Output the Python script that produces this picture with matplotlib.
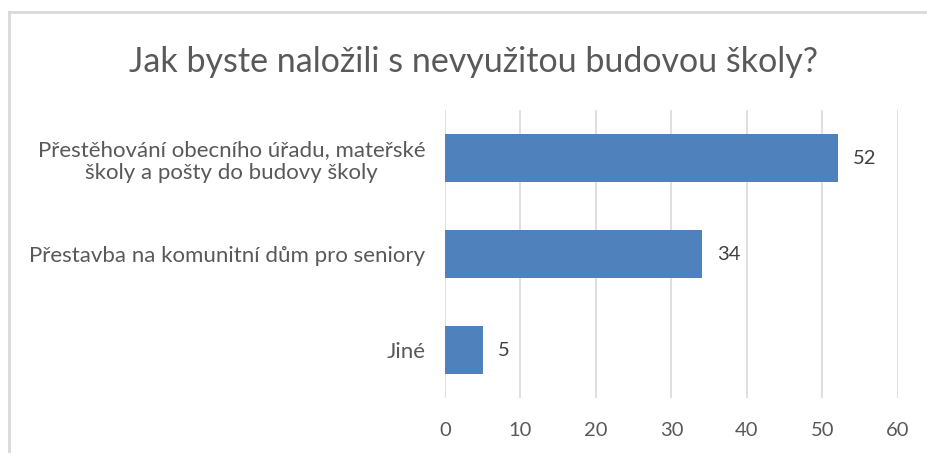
import matplotlib
matplotlib.use("Agg")
import matplotlib.pyplot as plt
from matplotlib.lines import Line2D

plt.rcParams["font.family"] = ["Lato", "DejaVu Sans"]

title = "Jak byste naložili s nevyužitou budovou školy?"
categories = [
    "Přestěhování obecního úřadu, mateřské\nškoly a pošty do budovy školy",
    "Přestavba na komunitní dům pro seniory",
    "Jiné",
]
values = [52, 34, 5]
x_ticks = [0, 10, 20, 30, 40, 50, 60]

bar_color = "#4F81BD"
text_color = "#595959"
grid_color = "#D9D9D9"

W, H = 928, 453
fig = plt.figure(figsize=(W / 100, H / 100), dpi=100)
ax = fig.add_axes([445 / W, 1 - 398 / H, (898 - 445) / W, (398 - 110) / H])

y = list(range(len(categories)))
ax.barh(y, values, height=0.5, color=bar_color, zorder=3)
for yi, v in zip(y, values):
    ax.text(v + 2, yi, str(v), va="center", ha="left", fontsize=14.5, color="#404040")

ax.set_ylim(len(categories) - 0.5, -0.5)
ax.set_xlim(x_ticks[0], x_ticks[-1])
ax.set_xticks(x_ticks)
ax.set_yticks(y)
ax.set_yticklabels(categories, fontsize=16, color=text_color, multialignment="center")
ax.tick_params(axis="x", length=0, pad=17, labelsize=14.5, labelcolor=text_color)
ax.tick_params(axis="y", length=0, pad=14)
ax.grid(axis="x", color=grid_color, linewidth=1.2, zorder=0)
for s in ax.spines.values():
    s.set_visible(False)

fig.text(474 / W, 1 - 62 / H, title, ha="center", va="center", fontsize=24.5, color=text_color)

# chart border (cut at the right and bottom edges)
fig.add_artist(Line2D([9 / W, 9 / W], [0, 1 - 12 / H], transform=fig.transFigure,
                      color=grid_color, linewidth=2))
fig.add_artist(Line2D([9 / W, 1], [1 - 12 / H, 1 - 12 / H], transform=fig.transFigure,
                      color=grid_color, linewidth=2))

fig.savefig("out.png", dpi=100)
